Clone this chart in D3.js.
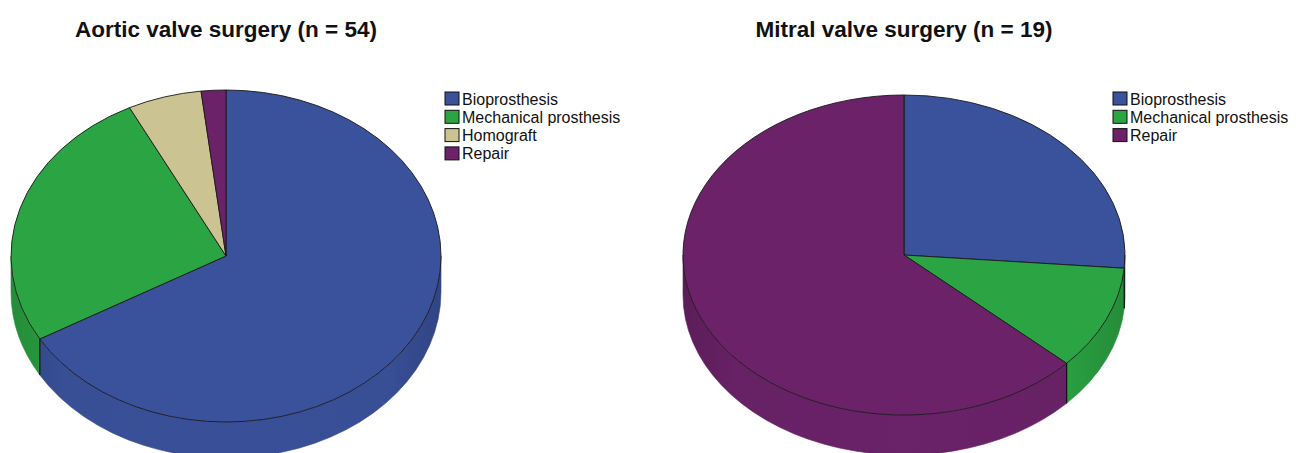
<!DOCTYPE html>
<html>
<head>
<meta charset="utf-8">
<script src="https://cdn.jsdelivr.net/npm/d3@7"></script>
<style>
  body { margin: 0; background: #fff; }
  svg { display: block; }
  text { font-family: "Liberation Sans", Arial, sans-serif; fill: #111; }
</style>
</head>
<body>
<svg width="1296" height="453"></svg>
<script>
// data
const aorticCats = ['Bioprosthesis', 'Mechanical prosthesis', 'Homograft', 'Repair'];
const aorticVals = [36, 14, 3, 1];
const mitralCats = ['Bioprosthesis', 'Mechanical prosthesis', 'Repair'];
const mitralVals = [5, 2, 12];
const titles = ['Aortic valve surgery (n = 54)', 'Mitral valve surgery (n = 19)'];

const colorOf = {
    'Bioprosthesis': '#3a519b',
    'Mechanical prosthesis': '#2ba443',
    'Homograft': '#cbc392',
    'Repair': '#6c2269'
};

const svg = d3.select('svg');
const defs = svg.append('defs');

const charts = [
    {cats: aorticCats, vals: aorticVals, title: titles[0], cx: 226, cy: 256, rx: 215, ry: 166, depth: 36, legX: 445},
    {cats: mitralCats, vals: mitralVals, title: titles[1], cx: 904, cy: 255, rx: 221, ry: 160, depth: 40, legX: 1113}
];

const pie = d3.pie().sort(null).value(d => d.v);

charts.forEach((c, ci) => {
    const data = c.cats.map((k, i) => ({k: k, v: c.vals[i]}));
    const arcs = pie(data);
    const g = svg.append('g');

    const px = a => c.cx + c.rx * Math.sin(a);
    const py = a => c.cy - c.ry * Math.cos(a);

    // side gradients, a bit darker towards the edges
    c.cats.forEach((k, i) => {
        const base = d3.color(colorOf[k]);
        const grad = defs.append('linearGradient')
            .attr('id', `side${ci}_${i}`)
            .attr('gradientUnits', 'userSpaceOnUse')
            .attr('x1', c.cx - c.rx).attr('x2', c.cx + c.rx)
            .attr('y1', 0).attr('y2', 0);
        grad.append('stop').attr('offset', 0).attr('stop-color', base.darker(0.45));
        grad.append('stop').attr('offset', 0.12).attr('stop-color', base.darker(0.12));
        grad.append('stop').attr('offset', 0.5).attr('stop-color', base.darker(0.04));
        grad.append('stop').attr('offset', 0.88).attr('stop-color', base.darker(0.12));
        grad.append('stop').attr('offset', 1).attr('stop-color', base.darker(0.45));
    });

    // outer walls (front half only)
    const sides = g.append('g');
    arcs.forEach((d, i) => {
        const a0 = Math.max(d.startAngle, Math.PI / 2);
        const a1 = Math.min(d.endAngle, Math.PI * 1.5);
        if (a0 >= a1) return;
        const path = `M${px(a0)},${py(a0)}` +
            `A${c.rx},${c.ry} 0 0 1 ${px(a1)},${py(a1)}` +
            `L${px(a1)},${py(a1) + c.depth}` +
            `A${c.rx},${c.ry} 0 0 0 ${px(a0)},${py(a0) + c.depth}Z`;
        sides.append('path')
            .attr('d', path)
            .attr('fill', `url(#side${ci}_${i})`)
            .attr('stroke', d3.color(colorOf[d.data.k]).darker(0.4))
            .attr('stroke-width', 0.6);
    });
    // seams between slices on the wall
    arcs.forEach(d => {
        const a = d.endAngle;
        if (a > Math.PI / 2 && a < Math.PI * 1.5) {
            sides.append('line')
                .attr('x1', px(a)).attr('y1', py(a))
                .attr('x2', px(a)).attr('y2', py(a) + c.depth)
                .attr('stroke', '#111').attr('stroke-width', 1.2);
        }
    });

    // top face
    const arc = d3.arc().innerRadius(0).outerRadius(c.rx);
    const top = g.append('g')
        .attr('transform', `translate(${c.cx},${c.cy}) scale(1,${c.ry / c.rx})`);
    top.selectAll('path').data(arcs).enter().append('path')
        .attr('d', arc)
        .attr('fill', d => colorOf[d.data.k])
        .attr('stroke', '#1a1a1a')
        .attr('stroke-width', 0.9)
        .attr('stroke-linejoin', 'round')
        .attr('vector-effect', 'non-scaling-stroke');

    // title
    svg.append('text')
        .attr('x', c.cx).attr('y', 37)
        .attr('text-anchor', 'middle')
        .style('font-size', '22.5px')
        .style('font-weight', 'bold')
        .text(c.title);

    // legend
    const leg = svg.append('g');
    c.cats.forEach((k, i) => {
        const y = 92 + i * 18.3;
        leg.append('rect')
            .attr('x', c.legX).attr('y', y)
            .attr('width', 14).attr('height', 13)
            .attr('fill', colorOf[k])
            .attr('stroke', '#111').attr('stroke-width', 1);
        leg.append('text')
            .attr('x', c.legX + 17).attr('y', y + 12.5)
            .style('font-size', '16px')
            .text(k);
    });
});
</script>
</body>
</html>
